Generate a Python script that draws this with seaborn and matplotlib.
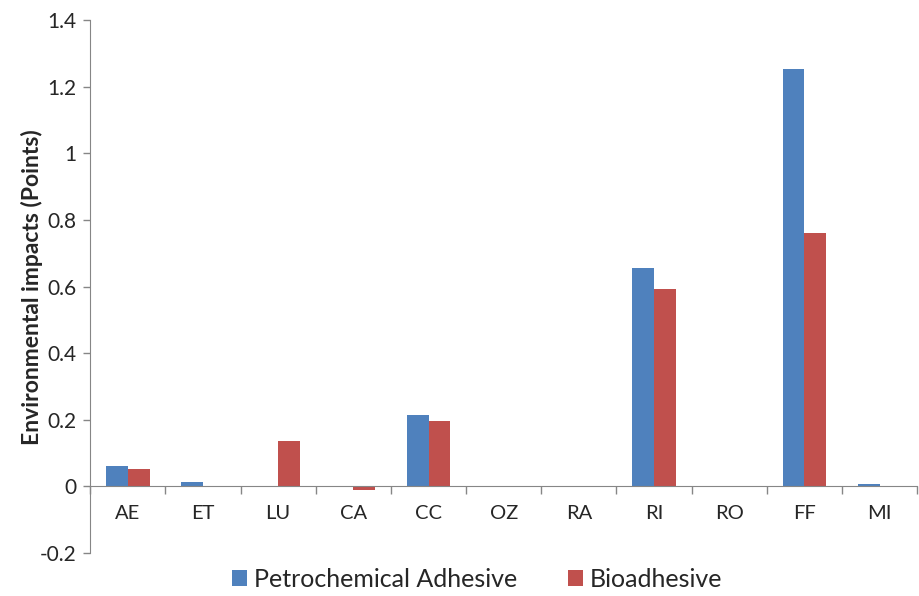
import matplotlib
matplotlib.use("Agg")
import matplotlib.pyplot as plt
import seaborn as sns
import pandas as pd
import numpy as np
from matplotlib.ticker import FixedLocator

categories = ["AE", "ET", "LU", "CA", "CC", "OZ", "RA", "RI", "RO", "FF", "MI"]
petro = [0.062, 0.013, -0.002, -0.003, 0.216, 0.0, -0.002, 0.657, 0.0, 1.253, 0.007]
bio = [0.053, -0.003, 0.137, -0.012, 0.198, -0.002, -0.003, 0.594, 0.0, 0.762, -0.002]
series_names = ["Petrochemical Adhesive", "Bioadhesive"]
yticks = [-0.2, 0, 0.2, 0.4, 0.6, 0.8, 1, 1.2, 1.4]
ytick_labels = ["-0.2", "0", "0.2", "0.4", "0.6", "0.8", "1", "1.2", "1.4"]

df = pd.DataFrame({
    "category": categories * 2,
    "value": petro + bio,
    "series": [series_names[0]] * len(categories) + [series_names[1]] * len(categories),
})

sns.set_style("white")
plt.rcParams["font.family"] = ["Lato", "DejaVu Sans"]

fig = plt.figure(figsize=(9.2, 5.96), dpi=100)
ax = fig.add_axes([0.098, 0.072, 0.899, 0.894])

sns.barplot(data=df, x="category", y="value", hue="series", order=categories,
            hue_order=series_names, palette=["#4F81BD", "#C0504D"], saturation=1,
            width=0.58, gap=0, edgecolor="none", ax=ax, legend=True)

ax.set_xlim(-0.5, 10.5)
ax.set_ylim(-0.2, 1.4)
ax.set_yticks(yticks)
ax.set_yticklabels(ytick_labels, fontsize=15)
ax.tick_params(axis="y", direction="out", length=5, color="#868686", width=1, left=True, pad=5)

ax.spines["top"].set_visible(False)
ax.spines["right"].set_visible(False)
ax.spines["left"].set_color("#868686")
ax.spines["bottom"].set_position(("data", 0))
ax.spines["bottom"].set_color("#868686")
ax.spines["bottom"].set_bounds(-0.5, 10.5)

ax.set_xticks(range(len(categories)))
ax.set_xticklabels(categories, fontsize=14.5)
ax.tick_params(axis="x", which="major", length=0, pad=13)
ax.xaxis.set_minor_locator(FixedLocator(np.arange(-0.5, 10.6, 1.0)))
ax.tick_params(axis="x", which="minor", direction="out", length=6, color="#868686", width=1, bottom=True)

ax.set_xlabel("")
ax.set_ylabel("Environmental impacts (Points)", fontsize=16.5, fontweight="bold")
ax.yaxis.set_label_coords(-0.057, 0.5)

handles, labels = ax.get_legend_handles_labels()
ax.legend(handles, labels, loc="center", bbox_to_anchor=(0.468, -0.05), ncol=2,
          frameon=False, fontsize=18, handlelength=0.6, handleheight=0.6,
          handletextpad=0.3, columnspacing=2.0)

fig.savefig("out.png", dpi=100)
